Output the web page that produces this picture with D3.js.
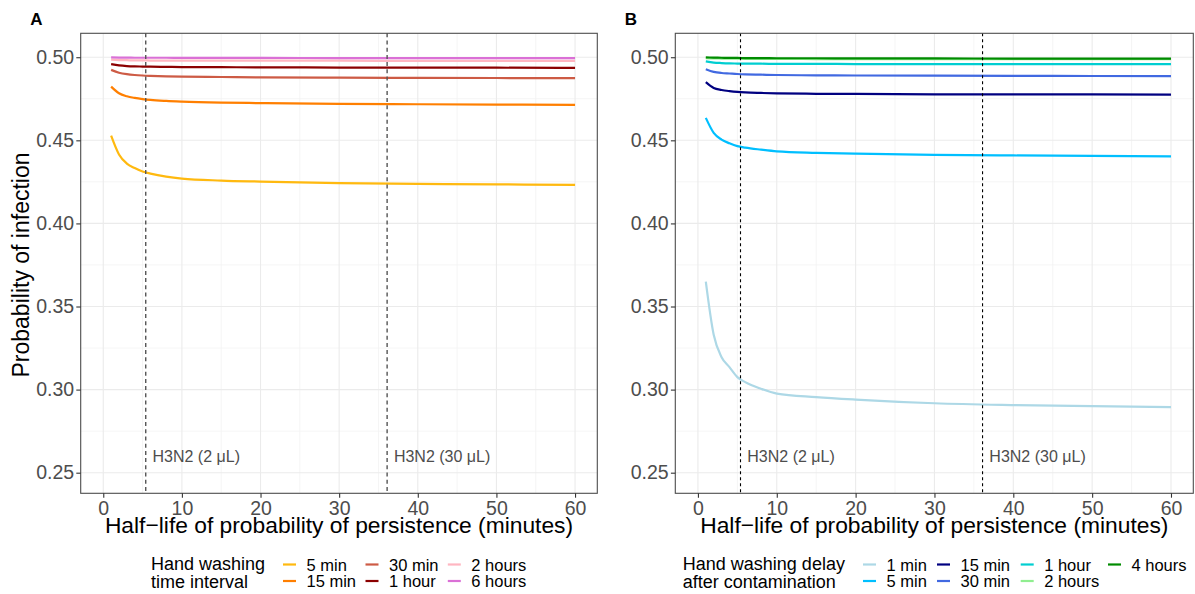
<!DOCTYPE html>
<html>
<head>
<meta charset="utf-8">
<script src="https://cdn.jsdelivr.net/npm/d3@7"></script>
<style>
  body { margin: 0; background: #ffffff; }
  svg { display: block; font-family: "Liberation Sans", Arial, Helvetica, sans-serif; }
</style>
</head>
<body>
<svg id="chart" width="1195" height="594"></svg>
<script>
// ---- Data ---------------------------------------------------------------
// Half-life of the probability of persistence (minutes)
const halfLife = [1, 2, 3, 4, 5, 6, 8, 10, 15, 20, 30, 40, 50, 60];

// Panel A: hand washing time interval
const intervalLabels = ["5 min", "15 min", "30 min", "1 hour", "2 hours", "6 hours"];
const intervalColors = ["#FFB90F", "#FF7F00", "#CD5B45", "#8B0000", "#FFB6C1", "#DA70D6"];
const interval5min   = [0.4528, 0.4415, 0.4360, 0.4333, 0.4312, 0.4300, 0.4282, 0.4270, 0.4258, 0.4252, 0.4243, 0.4238, 0.4235, 0.4232];
const interval15min  = [0.4823, 0.4783, 0.4765, 0.4755, 0.4748, 0.4743, 0.4737, 0.4733, 0.4727, 0.4724, 0.4719, 0.4717, 0.4715, 0.4713];
const interval30min  = [0.4924, 0.4907, 0.4898, 0.4893, 0.4890, 0.4888, 0.4885, 0.4883, 0.4881, 0.4879, 0.4877, 0.4876, 0.4875, 0.4874];
const interval1hour  = [0.4958, 0.4951, 0.4947, 0.4945, 0.4944, 0.4943, 0.4942, 0.4941, 0.4940, 0.4939, 0.4938, 0.4937, 0.4937, 0.4936];
const interval2hours = [0.4985, 0.4983, 0.4982, 0.4981, 0.4981, 0.4980, 0.4980, 0.4980, 0.4979, 0.4979, 0.4979, 0.4978, 0.4978, 0.4978];
const interval6hours = [0.4999, 0.4998, 0.4998, 0.4997, 0.4997, 0.4997, 0.4997, 0.4996, 0.4996, 0.4996, 0.4995, 0.4995, 0.4995, 0.4995];

// Panel B: hand washing delay after contamination
const delayLabels = ["1 min", "5 min", "15 min", "30 min", "1 hour", "2 hours", "4 hours"];
const delayColors = ["#ADD8E6", "#00BFFF", "#000080", "#4169E1", "#00CED1", "#90EE90", "#008B00"];
const delay1min   = [0.3650, 0.3330, 0.3195, 0.3135, 0.3075, 0.3045, 0.3005, 0.2976, 0.2955, 0.2940, 0.2918, 0.2907, 0.2900, 0.2895];
const delay5min   = [0.4635, 0.4545, 0.4504, 0.4482, 0.4465, 0.4456, 0.4444, 0.4434, 0.4425, 0.4420, 0.4413, 0.4409, 0.4406, 0.4404];
const delay15min  = [0.4850, 0.4815, 0.4803, 0.4796, 0.4791, 0.4788, 0.4785, 0.4783, 0.4780, 0.4779, 0.4777, 0.4776, 0.4776, 0.4775];
const delay30min  = [0.4928, 0.4912, 0.4905, 0.4902, 0.4899, 0.4897, 0.4895, 0.4893, 0.4891, 0.4890, 0.4889, 0.4888, 0.4887, 0.4886];
const delay1hour  = [0.4975, 0.4968, 0.4965, 0.4963, 0.4962, 0.4961, 0.4961, 0.4960, 0.4960, 0.4959, 0.4959, 0.4958, 0.4958, 0.4958];
const delay2hours = [0.4995, 0.4993, 0.4992, 0.4991, 0.4991, 0.4990, 0.4990, 0.4990, 0.4989, 0.4989, 0.4989, 0.4988, 0.4988, 0.4988];
const delay4hours = [0.4999, 0.4998, 0.4997, 0.4996, 0.4996, 0.4995, 0.4995, 0.4994, 0.4994, 0.4993, 0.4993, 0.4992, 0.4992, 0.4992];

// Reference half-lives for H3N2
const strainHalfLife = [5.4, 36.1];
const strainLabels = ["H3N2 (2 \u03bcL)", "H3N2 (30 \u03bcL)"];

// Axis ticks
const xTicks = [0, 10, 20, 30, 40, 50, 60];
const xMinor = [5, 15, 25, 35, 45, 55];
const yTicks = [0.25, 0.30, 0.35, 0.40, 0.45, 0.50];
const yTickLabels = ["0.25", "0.30", "0.35", "0.40", "0.45", "0.50"];
const yMinor = [0.275, 0.325, 0.375, 0.425, 0.475];

// ---- Layout -------------------------------------------------------------
const svg = d3.select("#chart");
const panelTop = 33.3, panelBottom = 493.3;
const xDomain = [-2.87, 62.83];
const yDomain = [0.2376, 0.5144];
const tickFont = 19.5;
const tickColor = "#4d4d4d";

const panels = [
  {
    tag: "A", left: 80.7, right: 597.3,
    series: [interval5min, interval15min, interval30min, interval1hour, interval2hours, interval6hours],
    labels: intervalLabels, colors: intervalColors,
    vline: { color: "#555555", width: 1.4, dash: "4,3.2" },
    legendTitle: ["Hand washing", "time interval"],
    legendTitleX: 151,
    legendCols: [283, 365.5, 447.8]
  },
  {
    tag: "B", left: 675.3, right: 1193.3,
    series: [delay1min, delay5min, delay15min, delay30min, delay1hour, delay2hours, delay4hours],
    labels: delayLabels, colors: delayColors,
    vline: { color: "#000000", width: 1.1, dash: "3,3" },
    legendTitle: ["Hand washing delay", "after contamination"],
    legendTitleX: 682.8,
    legendCols: [863, 937, 1020.7, 1108]
  }
];

panels.forEach(p => {
  const x = d3.scaleLinear().domain(xDomain).range([p.left, p.right]);
  const y = d3.scaleLinear().domain(yDomain).range([panelBottom, panelTop]);
  const g = svg.append("g");

  // panel background + grid
  g.append("rect").attr("x", p.left).attr("y", panelTop)
    .attr("width", p.right - p.left).attr("height", panelBottom - panelTop).attr("fill", "#ffffff");

  g.selectAll(".xminor").data(xMinor).enter().append("line")
    .attr("x1", d => x(d)).attr("x2", d => x(d)).attr("y1", panelTop).attr("y2", panelBottom)
    .attr("stroke", "#f2f2f2").attr("stroke-width", 0.8);
  g.selectAll(".yminor").data(yMinor).enter().append("line")
    .attr("y1", d => y(d)).attr("y2", d => y(d)).attr("x1", p.left).attr("x2", p.right)
    .attr("stroke", "#f2f2f2").attr("stroke-width", 0.8);
  g.selectAll(".xmajor").data(xTicks).enter().append("line")
    .attr("x1", d => x(d)).attr("x2", d => x(d)).attr("y1", panelTop).attr("y2", panelBottom)
    .attr("stroke", "#ebebeb").attr("stroke-width", 1.1);
  g.selectAll(".ymajor").data(yTicks).enter().append("line")
    .attr("y1", d => y(d)).attr("y2", d => y(d)).attr("x1", p.left).attr("x2", p.right)
    .attr("stroke", "#ebebeb").attr("stroke-width", 1.1);

  // curves
  const line = d3.line()
    .x((d, i) => x(halfLife[i]))
    .y(d => y(d))
    .curve(d3.curveMonotoneX);
  p.series.forEach((vals, k) => {
    g.append("path").datum(vals)
      .attr("d", line)
      .attr("fill", "none")
      .attr("stroke", p.colors[k])
      .attr("stroke-width", 2.2)
      .attr("stroke-linejoin", "round");
  });

  // H3N2 reference lines and labels
  strainHalfLife.forEach((h, k) => {
    g.append("line")
      .attr("x1", x(h)).attr("x2", x(h)).attr("y1", panelTop).attr("y2", panelBottom)
      .attr("stroke", p.vline.color).attr("stroke-width", p.vline.width)
      .attr("stroke-dasharray", p.vline.dash);
    g.append("text")
      .attr("x", x(h) + 6.8).attr("y", y(0.26))
      .attr("dy", "0.35em")
      .attr("font-size", 16).attr("fill", "#4d4d4d")
      .text(strainLabels[k]);
  });

  // panel border
  g.append("rect").attr("x", p.left).attr("y", panelTop)
    .attr("width", p.right - p.left).attr("height", panelBottom - panelTop)
    .attr("fill", "none").attr("stroke", "#4d4d4d").attr("stroke-width", 1.1);

  // axes
  const xAxis = d3.axisBottom(x).tickValues(xTicks).tickSize(4.4).tickPadding(3.5).tickFormat(d3.format("d"));
  const gx = g.append("g").attr("transform", `translate(0,${panelBottom})`).call(xAxis);
  gx.select(".domain").remove();
  gx.selectAll(".tick line").attr("stroke", "#333333").attr("stroke-width", 1.1);
  gx.selectAll(".tick text").attr("font-size", tickFont).attr("fill", tickColor)
    .attr("font-family", "Liberation Sans, Arial, sans-serif");

  const yAxis = d3.axisLeft(y).tickValues(yTicks).tickSize(4.4).tickPadding(2.2)
    .tickFormat((d, i) => yTickLabels[i]);
  const gy = g.append("g").attr("transform", `translate(${p.left},0)`).call(yAxis);
  gy.select(".domain").remove();
  gy.selectAll(".tick line").attr("stroke", "#333333").attr("stroke-width", 1.1);
  gy.selectAll(".tick text").attr("font-size", tickFont).attr("fill", tickColor)
    .attr("font-family", "Liberation Sans, Arial, sans-serif");

  // x axis title
  g.append("text")
    .attr("x", (p.left + p.right) / 2).attr("y", 533)
    .attr("text-anchor", "middle").attr("font-size", 22.8).attr("fill", "#000000")
    .text("Half\u2212life of probability of persistence (minutes)");

  // panel tag
  g.append("text")
    .attr("x", p.left - 50.5).attr("y", 25)
    .attr("font-size", 17).attr("font-weight", "bold").attr("fill", "#000000")
    .text(p.tag);

  // legend
  const lg = g.append("g");
  lg.append("text").attr("x", p.legendTitleX).attr("y", 570)
    .attr("font-size", 18).attr("fill", "#000000").text(p.legendTitle[0]);
  lg.append("text").attr("x", p.legendTitleX).attr("y", 588)
    .attr("font-size", 18).attr("fill", "#000000").text(p.legendTitle[1]);
  const rowsY = [564.5, 581];
  p.labels.forEach((lab, k) => {
    const col = Math.floor(k / 2), row = k % 2;
    const kx = p.legendCols[col], ky = rowsY[row];
    lg.append("line").attr("x1", kx).attr("x2", kx + 13).attr("y1", ky).attr("y2", ky)
      .attr("stroke", p.colors[k]).attr("stroke-width", 2.2);
    lg.append("text").attr("x", kx + 23.5).attr("y", ky + 6)
      .attr("font-size", 16.5).attr("fill", "#000000").text(lab);
  });
});

// shared y axis title
svg.append("text")
  .attr("transform", "translate(29,265) rotate(-90)")
  .attr("text-anchor", "middle").attr("font-size", 23).attr("fill", "#000000")
  .text("Probability of infection");
</script>
</body>
</html>
